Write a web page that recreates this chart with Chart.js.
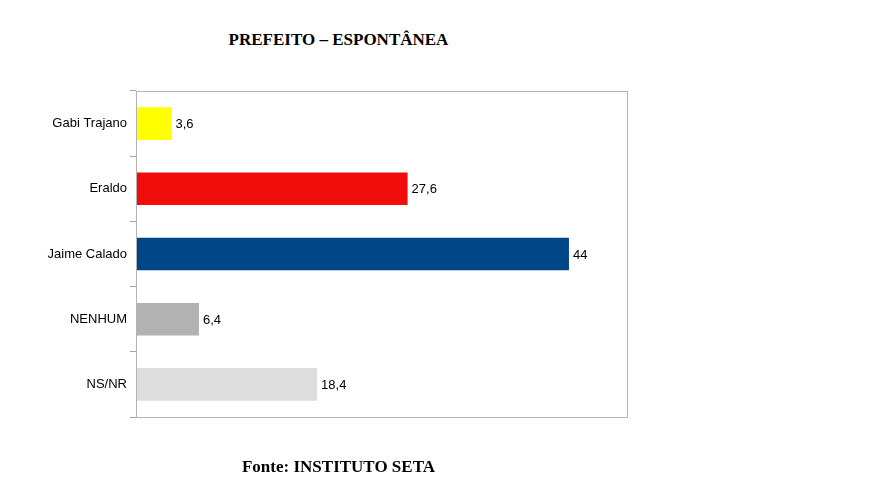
<!DOCTYPE html>
<html lang="pt">
<head>
    <meta charset="UTF-8">
    <title>Prefeito – Espontânea</title>
    <style>
        body {
            margin: 0;
            background: #ffffff;
            width: 892px;
            height: 495px;
            position: relative;
            overflow: hidden;
        }
        .caption {
            position: absolute;
            left: 0;
            width: 677px;
            text-align: center;
            font-family: "Liberation Serif", "Times New Roman", serif;
            font-weight: bold;
            font-size: 17px;
            color: #000;
        }
        #title { top: 30px; }
        #footer { top: 457px; }
        #wrap {
            position: absolute;
            left: 0;
            top: 0;
            width: 892px;
            height: 495px;
        }
    </style>
</head>
<body>
    <div id="title" class="caption">PREFEITO – ESPONTÂNEA</div>
    <div id="wrap"><canvas id="chart"></canvas></div>
    <div id="footer" class="caption">Fonte: INSTITUTO SETA</div>

    <script src="https://cdn.jsdelivr.net/npm/chart.js"></script>
    <script>
        const candidates = ['Gabi Trajano', 'Eraldo', 'Jaime Calado', 'NENHUM', 'NS/NR'];
        const percentages = [3.6, 27.6, 44, 6.4, 18.4];
        const barColors = ['#ffff00', '#f10d0c', '#004586', '#b2b2b2', '#dddddd'];

        // draws the grey frame round the plot area
        const frame = {
            id: 'frame',
            afterDraw(chart) {
                const a = chart.chartArea;
                const ctx = chart.ctx;
                ctx.save();
                ctx.strokeStyle = '#b3b3b3';
                ctx.lineWidth = 1;
                ctx.strokeRect(a.left + 0.5, a.top + 0.5, a.right - a.left - 1, a.bottom - a.top);
                ctx.restore();
            }
        };

        // value labels after each bar, with decimal comma
        const valueLabels = {
            id: 'valueLabels',
            afterDatasetsDraw(chart) {
                const ctx = chart.ctx;
                const meta = chart.getDatasetMeta(0);
                ctx.save();
                ctx.font = '13px "Liberation Sans", Arial, sans-serif';
                ctx.fillStyle = '#000';
                ctx.textBaseline = 'middle';
                meta.data.forEach((bar, i) => {
                    const txt = String(percentages[i]).replace('.', ',');
                    ctx.fillText(txt, bar.x + 4, bar.y + 1);
                });
                ctx.restore();
            }
        };

        new Chart(document.getElementById('chart'), {
            type: 'bar',
            data: {
                labels: candidates,
                datasets: [{
                    data: percentages,
                    backgroundColor: barColors,
                    borderWidth: 0,
                    barPercentage: 0.5,
                    categoryPercentage: 1
                }]
            },
            options: {
                indexAxis: 'y',
                responsive: true,
                maintainAspectRatio: false,
                animation: false,
                layout: {
                    padding: { left: 0, right: 264, top: 91, bottom: 78 }
                },
                plugins: {
                    legend: { display: false },
                    tooltip: { enabled: false }
                },
                scales: {
                    x: {
                        min: 0,
                        max: 50,
                        ticks: { display: false },
                        grid: { display: false, drawTicks: false },
                        border: { display: false },
                        afterFit(scale) { scale.height = 0; }
                    },
                    y: {
                        offset: true,
                        grid: {
                            offset: true,
                            drawOnChartArea: false,
                            drawTicks: true,
                            tickLength: 6,
                            color: '#a6a6a6'
                        },
                        border: { display: true, color: '#a6a6a6' },
                        ticks: {
                            color: '#000',
                            padding: 3,
                            font: { family: '"Liberation Sans", Arial, sans-serif', size: 13 }
                        },
                        afterFit(scale) { scale.width = 136; }
                    }
                }
            },
            plugins: [frame, valueLabels]
        });
    </script>
</body>
</html>
